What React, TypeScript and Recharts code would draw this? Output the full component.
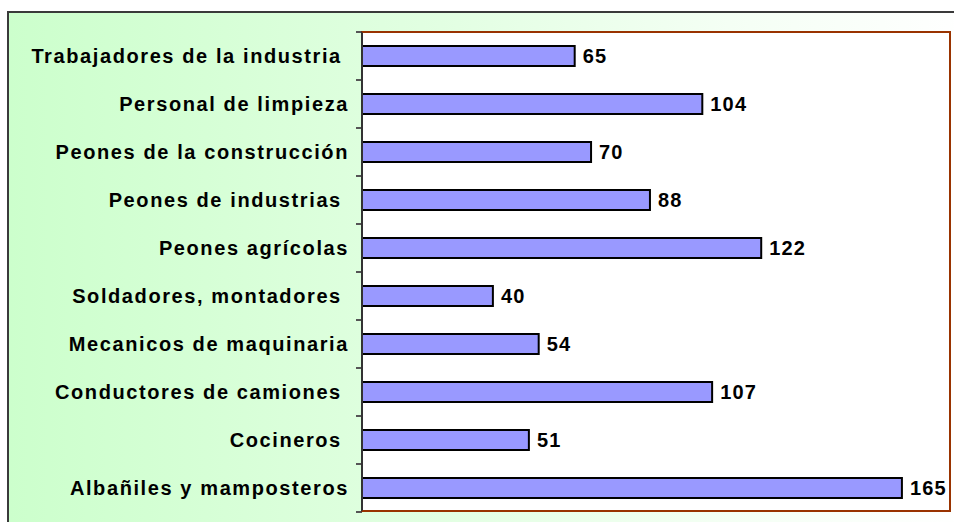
import { Bar, BarChart, CartesianGrid, LabelList, XAxis, YAxis } from "recharts";

const categories = [
  "Trabajadores de la industria ",
  "Personal de limpieza",
  "Peones de la construcción",
  "Peones de industrias ",
  "Peones agrícolas",
  "Soldadores, montadores ",
  "Mecanicos de maquinaria",
  "Conductores de camiones ",
  "Cocineros ",
  "Albañiles y mamposteros",
];
const values = [65, 104, 70, 88, 122, 40, 54, 107, 51, 165];

const FONT = "'Liberation Sans', Arial, sans-serif";
const W = 954;
const H = 522;
const MARGIN = { top: 32, right: 3, bottom: 10, left: 0 };
const TICK_MARGIN = 13;
const BAND = (H - MARGIN.top - MARGIN.bottom) / categories.length;

const rows = categories.map((label, i) => ({ label, value: values[i] }));

function CategoryTick(props: any) {
  const { x, y, payload, index } = props;
  const axisX = x + TICK_MARGIN;
  const isLast = index === categories.length - 1;
  return (
    <g>
      <line x1={axisX - 6} x2={axisX} y1={y - BAND / 2} y2={y - BAND / 2} stroke="#555" strokeWidth={2} />
      {isLast && <line x1={axisX - 6} x2={axisX} y1={y + BAND / 2} y2={y + BAND / 2} stroke="#555" strokeWidth={2} />}
      <text
        x={x}
        y={y}
        textAnchor="end"
        dominantBaseline="central"
        fontFamily={FONT}
        fontWeight="bold"
        fontSize={20}
        letterSpacing={1.6}
        fill="#000"
        style={{ whiteSpace: "pre" }}
      >
        {payload.value}
      </text>
    </g>
  );
}

export default function App() {
  return (
    <div style={{ position: "absolute", left: 0, top: 0, width: W, height: H, background: "#fff", overflow: "hidden" }}>
      <div
        style={{
          position: "absolute",
          left: 7,
          top: 11,
          width: 960,
          height: 520,
          borderTop: "2px solid #3a3a3a",
          borderLeft: "2px solid #3a3a3a",
          background: "linear-gradient(to right, #ccffcc 0%, #e2ffe2 45%, #f4fff4 75%, #ffffff 100%)",
        }}
      />
      <div style={{ position: "absolute", left: 0, top: 0 }}>
        <BarChart width={W} height={H} data={rows} layout="vertical" margin={MARGIN} barCategoryGap={14}>
          <CartesianGrid horizontal={false} vertical={false} fill="#ffffff" />
          <XAxis type="number" domain={[0, 180]} hide />
          <YAxis
            type="category"
            dataKey="label"
            width={362}
            tickSize={0}
            tickMargin={TICK_MARGIN}
            axisLine={false}
            tickLine={false}
            tick={<CategoryTick />}
          />
          <Bar dataKey="value" fill="#9999ff" stroke="#000" strokeWidth={2} barSize={20} isAnimationActive={false}>
            <LabelList
              dataKey="value"
              position="right"
              offset={8}
              style={{ fill: "#000", fontFamily: FONT, fontWeight: "bold", fontSize: 20, letterSpacing: 1.2 }}
            />
          </Bar>
        </BarChart>
      </div>
      <div
        style={{
          position: "absolute",
          left: 361,
          top: 31,
          width: 590,
          height: 481,
          boxSizing: "border-box",
          borderTop: "2px solid #993300",
          borderRight: "2px solid #993300",
          borderBottom: "2px solid #993300",
          borderLeft: "2px solid #333",
          pointerEvents: "none",
        }}
      />
    </div>
  );
}
